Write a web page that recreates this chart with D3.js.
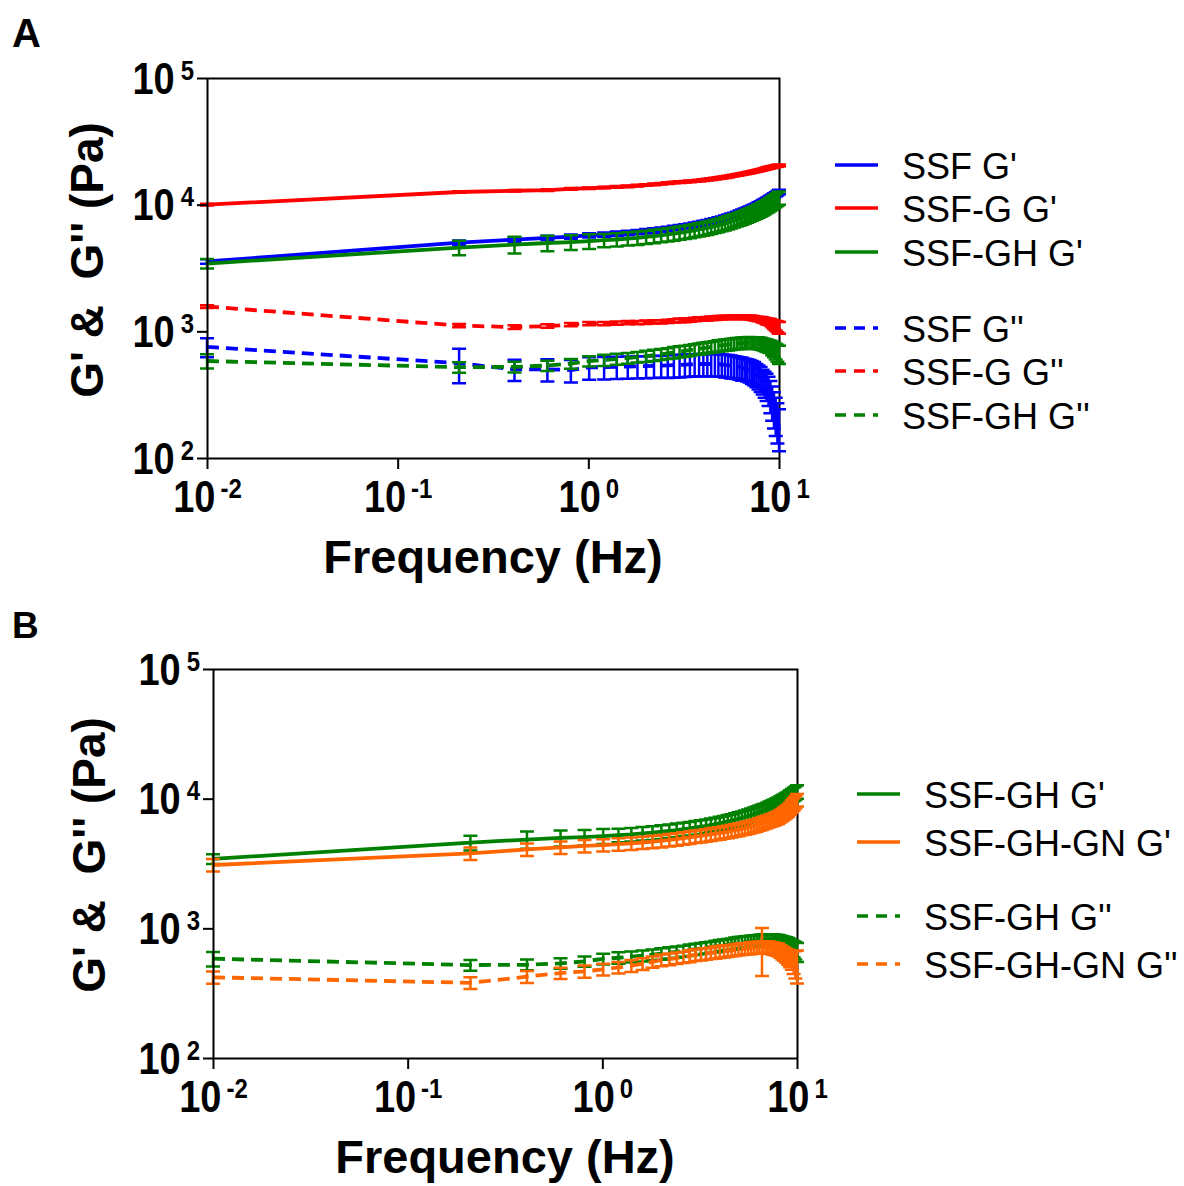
<!DOCTYPE html>
<html><head><meta charset="utf-8">
<script src="https://cdn.jsdelivr.net/npm/d3@7"></script>
<style>
body{margin:0;background:#fff}
svg{display:block}
text{font-family:"Liberation Sans",Arial,Helvetica,sans-serif}
</style>
</head><body>
<svg id="chart" width="1184" height="1186"></svg>
<script>
// ---------- DATA ----------
const freq = [0.01,0.21,0.41,0.61,0.81,1.01,1.21,1.41,1.61,1.81,2.01,2.21,2.41,2.61,2.81,3.01,3.21,3.41,3.61,3.81,4.01,4.21,4.41,4.61,4.81,5.01,5.21,5.41,5.61,5.81,6.01,6.21,6.41,6.61,6.81,7.01,7.21,7.41,7.61,7.81,8.01,8.21,8.41,8.61,8.81,9.01,9.21,9.41,9.61,9.81,10.0];

// SSF G'
const ssfGp = [3560,5010,5300,5470,5600,5730,5810,5900,5980,6080,6170,6250,6350,6440,6550,6640,6750,6840,6950,7060,7160,7280,7400,7520,7640,7760,7910,8040,8190,8320,8470,8630,8790,8950,9120,9290,9460,9660,9840,10050,10230,10450,10670,10890,11120,11350,11590,11830,12080,12330,12590];
const ssfGpErr = [140,200,210,220,220,230,230,240,240,240,250,250,250,260,260,270,270,270,280,280,290,290,300,300,310,310,320,320,330,330,340,350,350,360,360,370,380,390,390,400,410,420,430,440,440,450,460,470,480,490,500];
// SSF-G G'
const ssfgGp = [10000,12590,12880,13030,13340,13490,13650,13800,13960,14130,14290,14450,14620,14790,14960,15070,15170,15280,15380,15490,15630,15780,15920,16070,16220,16370,16520,16670,16830,16980,17140,17300,17460,17620,17780,17950,18110,18280,18450,18620,18790,18970,19140,19320,19500,19680,19820,19950,20090,20230,20420];
const ssfgGpErr = [150,190,190,200,200,200,200,210,210,210,210,220,220,220,220,230,230,230,230,230,230,240,240,240,240,250,250,250,250,250,260,260,260,260,270,270,270,270,280,280,280,280,290,290,290,300,300,300,300,300,310];
// SSF-GH G'
const ssfghGp = [3430,4580,4840,4980,5060,5150,5240,5310,5400,5470,5560,5650,5730,5820,5900,6000,6080,6180,6270,6370,6460,6560,6670,6780,6890,7000,7110,7240,7360,7500,7620,7760,7890,8040,8170,8320,8470,8630,8790,8950,9120,9310,9510,9710,9910,10120,10350,10590,10840,11090,11350];
const ssfghGpErr = [290,600,730,700,680,680,630,640,650,660,670,680,690,700,710,720,730,740,750,760,780,790,800,810,830,840,850,870,880,900,910,930,950,960,980,1000,1020,1040,1050,1070,1090,1120,1140,1170,1190,1210,1240,1270,1300,1330,1360];
// SSF G''
const ssfGpp = [753,560,501,501,495,519,522,525,527,530,531,533,536,538,541,543,546,548,550,551,552,552,552,551,550,547,543,540,535,530,525,519,513,507,501,495,484,473,457,442,427,407,389,372,347,316,282,251,224,200,178];
const ssfGppErr = [130,170,95,100,100,105,105,105,105,105,105,105,105,110,110,110,110,110,110,110,110,110,110,110,110,110,110,110,110,105,105,105,105,100,100,100,100,100,95,95,95,90,90,90,90,90,85,80,75,70,65];
// SSF-G G''
const ssfgGpp = [1570,1110,1080,1100,1130,1150,1150,1160,1170,1170,1180,1190,1190,1200,1210,1220,1220,1230,1240,1250,1250,1260,1270,1270,1280,1280,1290,1290,1290,1290,1290,1290,1290,1290,1290,1290,1280,1270,1260,1250,1250,1230,1220,1200,1190,1180,1150,1130,1110,1090,1070];
const ssfgGppErr = [40,35,35,35,35,35,35,35,35,35,35,35,35,35,35,40,40,40,40,40,40,40,40,40,40,40,40,40,40,40,40,40,40,40,40,45,45,45,45,50,50,55,55,60,65,70,75,85,95,105,115];
// SSF-GH G''
const ssfghGpp = [583,521,524,537,556,582,593,604,615,627,638,649,659,670,681,692,701,710,719,728,738,745,753,760,769,776,782,787,793,798,804,805,809,811,815,817,815,813,811,807,804,794,785,776,767,759,738,718,698,679,661];
const ssfghGppErr = [75,50,50,50,50,55,60,60,60,60,65,65,65,65,70,70,70,70,70,75,75,75,75,75,80,80,80,80,80,80,80,80,85,85,85,85,85,85,85,85,85,85,85,85,85,85,90,95,100,105,110];
// SSF-GH-GN G'
const ssfghgnGp = [3080,3780,4060,4210,4320,4390,4460,4520,4590,4660,4730,4810,4880,4960,5020,5110,5160,5240,5300,5370,5430,5500,5570,5640,5720,5780,5860,5930,6010,6080,6170,6250,6350,6440,6550,6640,6750,6840,6950,7060,7160,7350,7530,7730,7930,8130,8430,8750,9080,9420,9770];
const ssfghgnGpErr = [340,420,450,460,480,480,490,500,500,510,520,530,540,550,550,560,570,580,580,590,600,600,610,620,630,640,640,650,660,670,680,690,700,710,720,730,740,750,760,770,790,810,830,850,870,890,930,960,1000,1040,1070];
// SSF-GH-GN G''
const ssfghgnGpp = [419,380,424,452,466,483,499,515,533,551,569,579,590,601,612,624,631,638,646,653,661,667,671,678,682,689,693,698,701,706,711,713,714,718,719,721,714,706,698,692,684,667,650,634,618,603,586,570,555,540,525];
const ssfghgnGppErr = [45,40,45,45,50,50,50,55,55,55,60,60,60,60,65,65,65,65,65,70,70,70,70,70,70,70,70,70,70,75,75,75,75,290,75,75,75,75,75,75,75,75,75,75,75,80,85,90,110,130,150];

const xTickValues = [0.01, 0.1, 1, 10];
const xTickExp = ["-2", "-1", "0", "1"];
const yTickValues = [100, 1000, 10000, 100000];
const yTickExp = ["2", "3", "4", "5"];

const legendA = ["SSF G'", "SSF-G G'", "SSF-GH G'", "SSF G''", "SSF-G G''", "SSF-GH G''"];
const legendB = ["SSF-GH G'", "SSF-GH-GN G'", "SSF-GH G''", "SSF-GH-GN G''"];
const xTitle = "Frequency (Hz)";
const yTitle = "G' &\u00A0 G'' (Pa)";

// ---------- STYLE ----------
const BLUE = "#0000ff", RED = "#ff0000", GREEN = "#008000", ORANGE = "#ff6600";
const DASH = "12,7";

const svg = d3.select("#chart");

function drawPanel(cfg) {
  const x = d3.scaleLog().domain([0.01, 10]).range([cfg.left, cfg.right]);
  const y = d3.scaleLog().domain([100, 100000]).range([cfg.bottom, cfg.top]);
  const g = svg.append("g");

  // frame (top, right)
  g.append("path")
    .attr("d", `M${cfg.left},${cfg.top + 0.5}H${cfg.right + 0.5}V${cfg.bottom}`)
    .attr("fill", "none").attr("stroke", "#000").attr("stroke-width", 2);

  const line = d3.line().x(d => x(d.f)).y(d => y(d.v));

  cfg.series.forEach(s => {
    const pts = freq.map((f, i) => ({ f: f, v: s.values[i], e: s.err[i] }));
    const eg = g.append("g").attr("stroke", s.color).attr("stroke-width", 2.5).attr("fill", "none");
    eg.selectAll("path").data(pts).join("path")
      .attr("d", p => {
        const xx = x(p.f);
        const y1 = y(Math.max(p.v - p.e, 100));
        const y2 = y(p.v + p.e);
        return `M${xx},${y1}V${y2}M${xx - 7},${y1}h14M${xx - 7},${y2}h14`;
      });
    g.append("path").datum(pts)
      .attr("d", line)
      .attr("fill", "none")
      .attr("stroke", s.color)
      .attr("stroke-width", 3.8)
      .attr("stroke-dasharray", s.dashed ? DASH : null);
  });

  // axes
  const gy = g.append("g").attr("transform", `translate(${cfg.left},0)`)
    .call(d3.axisLeft(y).tickValues(yTickValues).tickSize(10).tickSizeOuter(0).tickFormat(() => ""));
  const gx = g.append("g").attr("transform", `translate(0,${cfg.bottom})`)
    .call(d3.axisBottom(x).tickValues(xTickValues).tickSize(11).tickSizeOuter(0).tickFormat(() => ""));
  [gy, gx].forEach(a => {
    a.select(".domain").attr("stroke", "#000").attr("stroke-width", 2);
    a.selectAll(".tick line").attr("stroke", "#000").attr("stroke-width", 2);
    a.selectAll(".tick text").remove();
  });

  gy.selectAll(".tick").each(function (d, i) {
    const t = d3.select(this).append("text")
      .attr("fill", "#000").attr("text-anchor", "end")
      .attr("transform", "translate(-13,15) scale(1,1.15)")
      .style("font-size", "38px").style("font-weight", "bold");
    t.append("tspan").text("10");
    t.append("tspan").attr("dx", 6).attr("dy", -12).style("font-size", "24px").text(yTickExp[i]);
  });
  gx.selectAll(".tick").each(function (d, i) {
    const t = d3.select(this).append("text")
      .attr("fill", "#000").attr("text-anchor", "middle")
      .attr("transform", "translate(0,54) scale(1,1.15)")
      .style("font-size", "38px").style("font-weight", "bold");
    t.append("tspan").text("10");
    t.append("tspan").attr("dx", 5).attr("dy", -12).style("font-size", "24px").text(xTickExp[i]);
  });

  // titles
  g.append("text")
    .attr("x", (cfg.left + cfg.right) / 2).attr("y", cfg.bottom + 115)
    .attr("text-anchor", "middle")
    .style("font-size", "47px").style("font-weight", "bold")
    .text(xTitle);
  g.append("text")
    .attr("transform", `translate(${cfg.yTitleX},${cfg.yTitleY}) rotate(-90)`)
    .attr("text-anchor", "middle")
    .style("font-size", "46px").style("font-weight", "bold")
    .text(yTitle);
  g.append("text")
    .attr("x", 12).attr("y", cfg.letterY)
    .style("font-size", cfg.letterSize + "px").style("font-weight", "bold")
    .text(cfg.letter);

  // legend
  cfg.legend.forEach((lab, i) => {
    const s = cfg.legendSeries[i];
    const ly = cfg.legendRows[i];
    g.append("line")
      .attr("x1", cfg.legendX).attr("x2", cfg.legendX + 43)
      .attr("y1", ly).attr("y2", ly)
      .attr("stroke", s.color).attr("stroke-width", 3.5)
      .attr("stroke-dasharray", s.dashed ? "11,8" : null);
    g.append("text")
      .attr("x", cfg.legendX + 67).attr("y", ly + 14)
      .style("font-size", "36px")
      .text(lab);
  });
}

const sA = [
  { values: ssfGp, err: ssfGpErr, color: BLUE, dashed: false },
  { values: ssfgGp, err: ssfgGpErr, color: RED, dashed: false },
  { values: ssfghGp, err: ssfghGpErr, color: GREEN, dashed: false },
  { values: ssfGpp, err: ssfGppErr, color: BLUE, dashed: true },
  { values: ssfgGpp, err: ssfgGppErr, color: RED, dashed: true },
  { values: ssfghGpp, err: ssfghGppErr, color: GREEN, dashed: true }
];
const sB = [
  { values: ssfghGp, err: ssfghGpErr, color: GREEN, dashed: false },
  { values: ssfghgnGp, err: ssfghgnGpErr, color: ORANGE, dashed: false },
  { values: ssfghGpp, err: ssfghGppErr, color: GREEN, dashed: true },
  { values: ssfghgnGpp, err: ssfghgnGppErr, color: ORANGE, dashed: true }
];

drawPanel({
  letter: "A", letterY: 47, letterSize: 40,
  left: 207, right: 779, top: 78, bottom: 458,
  yTitleX: 103, yTitleY: 260,
  series: sA, legend: legendA, legendSeries: sA,
  legendX: 835, legendRows: [165, 208, 252, 328, 371, 415]
});
drawPanel({
  letter: "B", letterY: 638, letterSize: 37,
  left: 213, right: 797, top: 669, bottom: 1058,
  yTitleX: 105, yTitleY: 855,
  series: sB, legend: legendB, legendSeries: sB,
  legendX: 857, legendRows: [794, 842, 916, 964]
});
</script>
</body></html>
